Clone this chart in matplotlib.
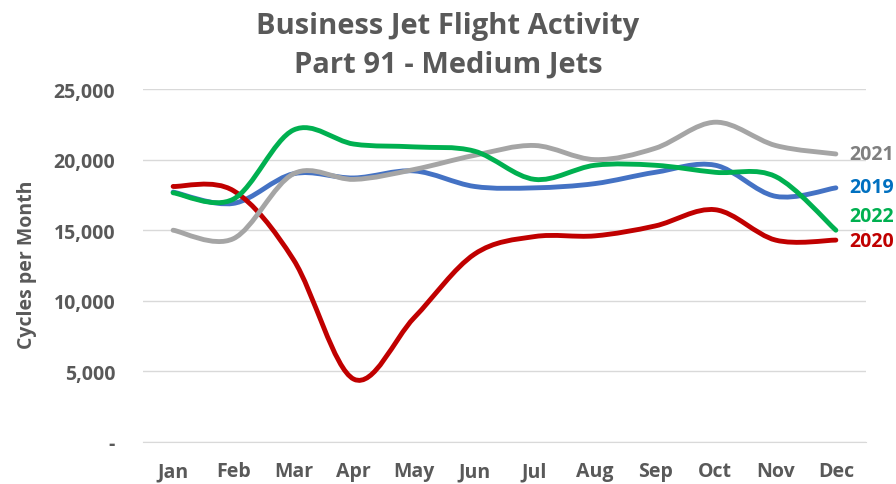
import matplotlib.pyplot as plt
from matplotlib.path import Path
from matplotlib.patches import PathPatch
from matplotlib.ticker import FuncFormatter

# monthly cycles
months = ['Jan', 'Feb', 'Mar', 'Apr', 'May', 'Jun', 'Jul', 'Aug', 'Sep', 'Oct', 'Nov', 'Dec']
cycles_2019 = [17700, 16900, 19000, 18700, 19200, 18100, 18000, 18300, 19100, 19600, 17400, 18000]
cycles_2020 = [18100, 17800, 12900, 4450, 8800, 13300, 14550, 14600, 15300, 16450, 14300, 14300]
cycles_2021 = [15000, 14400, 19000, 18600, 19300, 20300, 21000, 20000, 20800, 22650, 21000, 20400]
cycles_2022 = [17650, 17200, 22100, 21100, 20900, 20600, 18600, 19600, 19600, 19100, 18800, 15000]

series = [
    ('2019', cycles_2019, '#4472C4', '#0070C0', 18050),
    ('2020', cycles_2020, '#C00000', '#C00000', 14250),
    ('2021', cycles_2021, '#A5A5A5', '#7F7F7F', 20400),
    ('2022', cycles_2022, '#00B050', '#00B050', 16000),
]

FONT = 'Open Sans'
TXT = '#595959'


def smooth_path(ys):
    # excel-style smoothed line: cubic bezier through each point
    xs = list(range(len(ys)))
    pts = list(zip(xs, ys))
    verts = [pts[0]]
    codes = [Path.MOVETO]
    n = len(pts)
    for i in range(n - 1):
        p0 = pts[max(i - 1, 0)]
        p1 = pts[i]
        p2 = pts[i + 1]
        p3 = pts[min(i + 2, n - 1)]
        c1 = (p1[0] + (p2[0] - p0[0]) / 6, p1[1] + (p2[1] - p0[1]) / 6)
        c2 = (p2[0] - (p3[0] - p1[0]) / 6, p2[1] - (p3[1] - p1[1]) / 6)
        verts += [c1, c2, p2]
        codes += [Path.CURVE4] * 3
    return Path(verts, codes)


fig = plt.figure(figsize=(8.96, 4.85), dpi=100)
ax = fig.add_axes([0.1596, 0.0866, 0.8069, 0.7278])

for name, vals, col, lab_col, lab_y in series:
    ax.add_patch(PathPatch(smooth_path(vals), facecolor='none', edgecolor=col,
                           lw=3.5, capstyle='round', joinstyle='round', zorder=3))
    ax.text(11.22, lab_y, name, color=lab_col, fontsize=14, fontweight='bold',
            family=FONT, va='center', ha='left', clip_on=False)

ax.set_xlim(-0.5, 11.5)
ax.set_ylim(0, 25000)
ax.set_xticks(range(len(months)))
ax.set_xticklabels(months)
ax.set_yticks(range(0, 25001, 5000))
ax.yaxis.set_major_formatter(FuncFormatter(lambda v, p: '-' if v == 0 else f'{int(v):,}'))
ax.tick_params(length=0, labelsize=14, labelcolor=TXT)
ax.tick_params(axis='x', pad=14)
ax.tick_params(axis='y', pad=20)
for lbl in ax.get_xticklabels() + ax.get_yticklabels():
    lbl.set_fontweight('bold')
    lbl.set_family(FONT)

ax.grid(axis='y', color='#D9D9D9', lw=1)
ax.set_axisbelow(True)
for s in ['top', 'right', 'left']:
    ax.spines[s].set_visible(False)
ax.spines['bottom'].set_color('#D9D9D9')

fig.text(0.03, 0.455, 'Cycles per Month', rotation=90, ha='center', va='center',
         fontsize=14, fontweight='bold', color=TXT, family=FONT)
fig.text(0.5, 0.945, 'Business Jet Flight Activity', ha='center', va='center',
         fontsize=21, fontweight='bold', color=TXT, family=FONT)
fig.text(0.5, 0.866, 'Part 91 - Medium Jets', ha='center', va='center',
         fontsize=21, fontweight='bold', color=TXT, family=FONT)

fig.savefig('out.png', dpi=100)
